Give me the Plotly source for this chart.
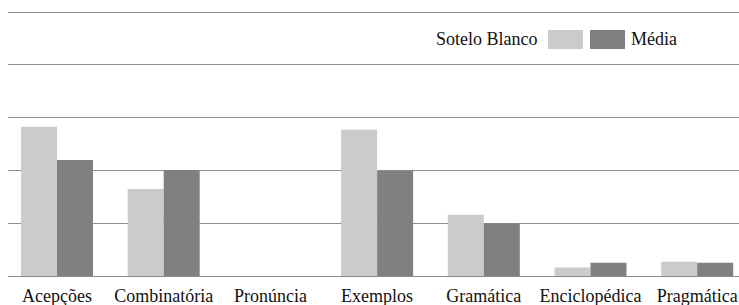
import plotly.graph_objects as go

categories = ["Acepções", "Combinatória", "Pronúncia", "Exemplos", "Gramática", "Enciclopédica", "Pragmática"]
sotelo_blanco = [28.3, 16.5, 0, 27.7, 11.6, 1.6, 2.7]
media = [22.0, 20.1, 0, 19.9, 10.0, 2.5, 2.5]
y_ticks = [0, 10, 20, 30, 40, 50]

LIGHT = "#cbcbcb"
DARK = "#808080"
FONT = "Liberation Serif, Times New Roman, serif"

fig = go.Figure()
fig.add_trace(go.Bar(x=categories, y=sotelo_blanco, name="Sotelo Blanco",
                     marker=dict(color=LIGHT, line=dict(width=0)), showlegend=False))
fig.add_trace(go.Bar(x=categories, y=media, name="Média",
                     marker=dict(color=DARK, line=dict(width=0)), showlegend=False))

W, H = 739, 305
L, R, T, B = 8, 0, 9, 29
pw, ph = W - L - R, H - T - B
YMAX = 50.6

def px(x):
    return (x - L) / pw

def py(y):
    return (H - B - y) / ph

# legend (drawn manually: label left of first swatch, right of second)
fig.add_shape(type="rect", xref="paper", yref="paper", x0=px(548), x1=px(583), y0=py(49), y1=py(30),
              fillcolor=LIGHT, line=dict(width=0))
fig.add_shape(type="rect", xref="paper", yref="paper", x0=px(590), x1=px(625), y0=py(49), y1=py(30),
              fillcolor=DARK, line=dict(width=0))
fig.add_annotation(xref="paper", yref="paper", x=px(540), y=py(39.5), text="Sotelo Blanco",
                   showarrow=False, xanchor="right", yanchor="middle",
                   font=dict(family=FONT, size=18, color="#111111"))
fig.add_annotation(xref="paper", yref="paper", x=px(629), y=py(39.5), text="Média",
                   showarrow=False, xanchor="left", yanchor="middle",
                   font=dict(family=FONT, size=18, color="#111111"))

spacing = 106.7
r0 = -(57 - L) / spacing
r1 = r0 + pw / spacing

fig.update_layout(
    width=W, height=H, autosize=False,
    margin=dict(l=L, r=R, t=T, b=B, pad=0),
    paper_bgcolor="white", plot_bgcolor="white",
    barmode="group", bargap=0.325, bargroupgap=0,
    font=dict(family=FONT, size=18, color="#111111"),
    xaxis=dict(range=[r0, r1], showgrid=False, showline=True, linecolor="#8a8a8a", linewidth=1,
               ticks="", ticklabelstandoff=3,
               tickfont=dict(family=FONT, size=18, color="#111111")),
    yaxis=dict(range=[0, YMAX], tickvals=y_ticks, showticklabels=False, showgrid=True,
               gridcolor="#8e8e8e", gridwidth=1, zeroline=False, showline=False, ticks=""),
)

fig.write_html("out.html", config={"displayModeBar": False},
               post_script="document.body.style.margin='0';document.body.style.overflow='hidden';")
